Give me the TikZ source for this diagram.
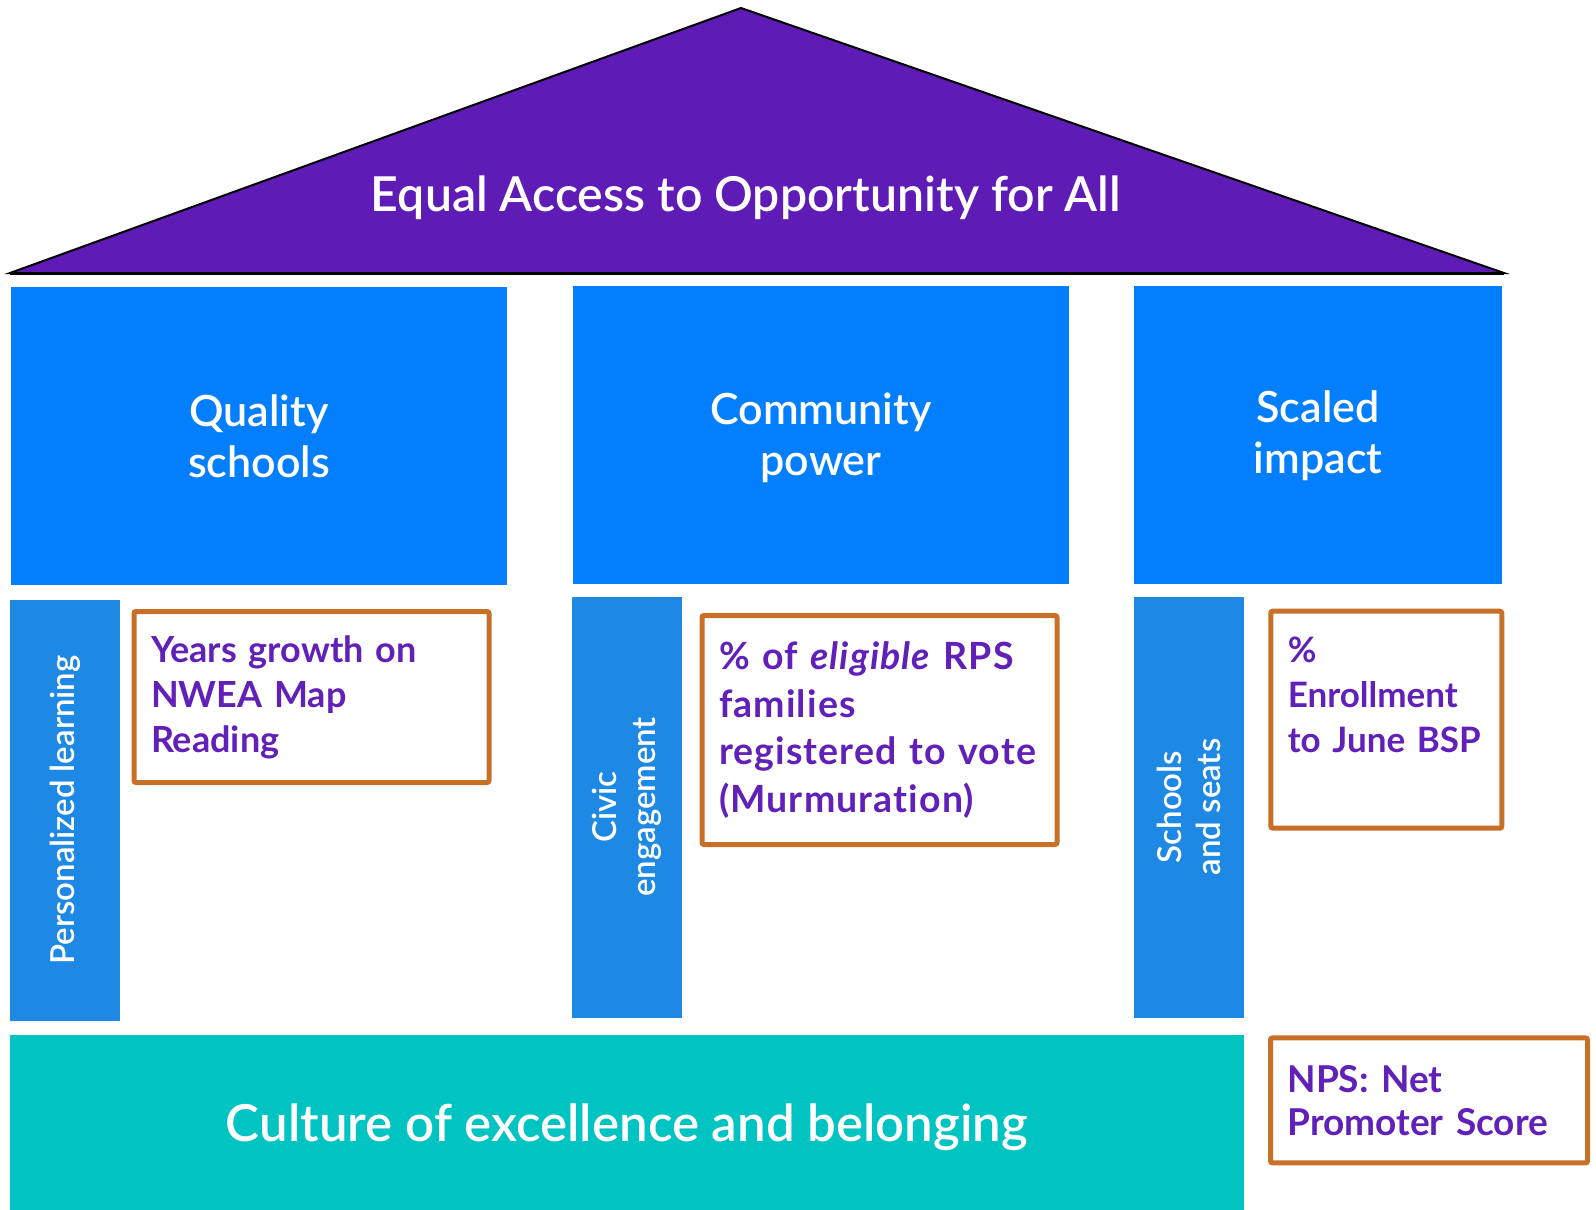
\documentclass[tikz,border=0pt]{standalone}
\usepackage{fontspec}
\setmainfont{Lato}[BoldFont={Lato Bold}, BoldItalicFont={Lato Bold Italic}, Ligatures=NoCommon]
\newfontfamily\latosemi{Lato Semibold}
\newfontfamily\latospaced{Lato Bold}[ItalicFont={Lato Bold Italic}, Ligatures=NoCommon,
    LetterSpace=3, WordSpace=0.6]

\definecolor{roofpurple}{HTML}{5F1BB6}
\definecolor{textpurple}{HTML}{6120B8}
\definecolor{topblue}{HTML}{037FFE}
\definecolor{barblue}{HTML}{1E88E5}
\definecolor{baseteal}{HTML}{00C4C2}
\definecolor{metricorange}{HTML}{C87028}

% lower a label inside its box without changing the box
\newcommand{\lowerby}[2]{\raisebox{-#1}[\height][\depth]{\begin{tabular}{@{}c@{}}#2\end{tabular}}}

\begin{document}
\begin{tikzpicture}[x=1pt, y=-1pt,
    pillar/.style={fill=topblue, text=white, minimum height=298pt, inner sep=0pt,
        align=center, font=\latosemi\fontsize{43}{51}\selectfont},
    beam/.style={fill=barblue, text=white, minimum width=421pt, minimum height=110pt,
        inner sep=0pt, rotate=90, align=center, font=\latosemi\fontsize{33}{39}\selectfont},
    metric/.style={draw=metricorange, line width=5pt, rounded corners=2pt, text=textpurple,
        align=left, inner xsep=17pt, outer sep=0pt, font=\bfseries\fontsize{36}{45}\selectfont}]
    \useasboundingbox (0,0) rectangle (1596,1210);

    % roof
    \draw[line width=2pt, line join=miter, fill=roofpurple] (10,273) -- (741,8) -- (1504,273) -- cycle;
    \draw[line width=3pt] (10,273) -- (1504,273);
    \node[text=white, font=\latosemi\fontsize{48.2}{58}\selectfont] (vision) at (746,198) {Equal Access to Opportunity for All};

    % pillars
    \node[pillar, minimum width=496pt] (quality) at (259,436) {Quality\\schools};
    \node[pillar, minimum width=496pt] (community) at (821,435) {\lowerby{5pt}{Community\\power}};
    \node[pillar, minimum width=368pt] (scaled) at (1318,435) {\lowerby{3pt}{Scaled\\impact}};

    \node[beam] (personal) at (65,810) {Personalized learning};
    \node[beam] (civic) at (627,807) {Civic\\engagement};
    \node[beam] (seats) at (1189,807) {Schools\\and seats};

    % metrics
    \node[metric, minimum width=355pt, minimum height=171pt, text width=321pt] (nwea) at (311.5,697)
        {Years growth on\\NWEA Map\\Reading};
    \node[metric, minimum width=355pt, minimum height=229pt, text width=321pt,
        font=\latospaced\fontsize{37.5}{47.8}\selectfont] (voters) at (879.5,730)
        {\mbox{\% of \textit{eligible} RPS}\\families\\\mbox{registered to vote}\\(Murmuration)};
    \node[metric, minimum width=231pt, text width=197pt, anchor=north west, inner ysep=17.5pt,
        text height=34pt, text depth=148pt, font=\bfseries\fontsize{35}{45}\selectfont] (enroll) at (1270.8,611.2)
        {\%\\Enrollment\\to June BSP};

    % foundation
    \node[fill=baseteal, text=white, minimum width=1234pt, minimum height=175pt, inner sep=0pt,
        font=\latosemi\fontsize{51}{60}\selectfont] (culture) at (627,1122.6)
        {\lowerby{7pt}{Culture of excellence and belonging}};
    \node[metric, minimum width=317pt, minimum height=125pt, text width=283pt,
        font=\bfseries\fontsize{37}{43}\selectfont] (nps) at (1429,1100.4)
        {NPS: Net\\Promoter Score};
\end{tikzpicture}
\end{document}
